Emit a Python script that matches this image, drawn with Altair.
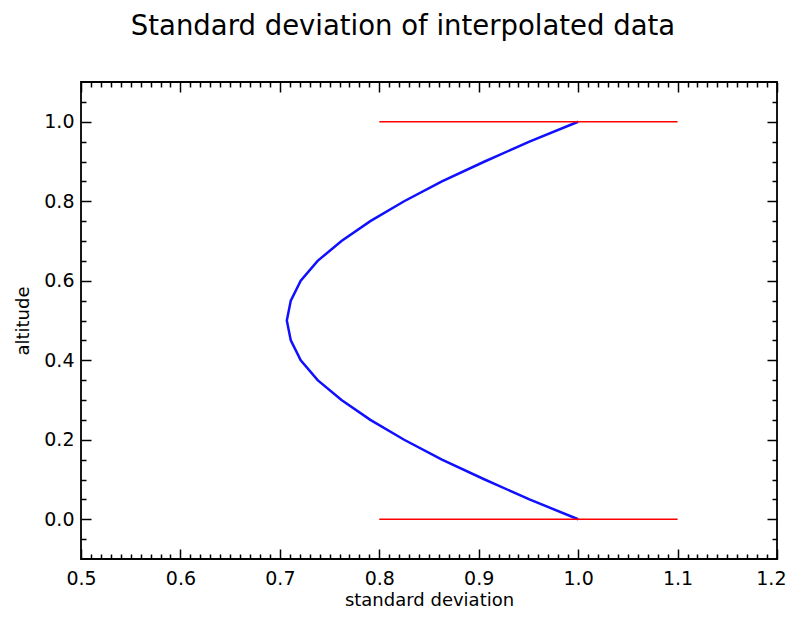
import altair as alt
import pandas as pd

# Curve values
altitude = [0.0, 0.05, 0.1, 0.15, 0.2, 0.25, 0.3, 0.35, 0.4, 0.45, 0.5,
            0.55, 0.6, 0.65, 0.7, 0.75, 0.8, 0.85, 0.9, 0.95, 1.0]
std_dev = [1.0, 0.951, 0.906, 0.863, 0.825, 0.791, 0.762, 0.738, 0.721, 0.711, 0.707,
           0.711, 0.721, 0.738, 0.762, 0.791, 0.825, 0.863, 0.906, 0.951, 1.0]

# Red reference lines
ref_alt = [0.0, 1.0]
ref_x0 = [0.8, 0.8]
ref_x1 = [1.1, 1.1]

x_major = [0.5, 0.6, 0.7, 0.8, 0.9, 1.0, 1.1]
x_last = [1.2]
x_minor = [0.51, 0.52, 0.53, 0.54, 0.55, 0.56, 0.57, 0.58, 0.59,
           0.61, 0.62, 0.63, 0.64, 0.65, 0.66, 0.67, 0.68, 0.69,
           0.71, 0.72, 0.73, 0.74, 0.75, 0.76, 0.77, 0.78, 0.79,
           0.81, 0.82, 0.83, 0.84, 0.85, 0.86, 0.87, 0.88, 0.89,
           0.91, 0.92, 0.93, 0.94, 0.95, 0.96, 0.97, 0.98, 0.99,
           1.01, 1.02, 1.03, 1.04, 1.05, 1.06, 1.07, 1.08, 1.09,
           1.11, 1.12, 1.13, 1.14, 1.15, 1.16, 1.17, 1.18, 1.19]
y_major = [0.0, 0.2, 0.4, 0.6, 0.8, 1.0]
y_minor = [-0.05, 0.05, 0.1, 0.15, 0.25, 0.3, 0.35, 0.45, 0.5, 0.55,
           0.65, 0.7, 0.75, 0.85, 0.9, 0.95, 1.05]

curve = pd.DataFrame({"std": std_dev, "alt": altitude, "i": list(range(len(altitude)))})
refs = pd.DataFrame({"alt": ref_alt, "x0": ref_x0, "x1": ref_x1})

xs = alt.Scale(domain=[0.5, 1.2], nice=False, zero=False)
ys = alt.Scale(domain=[-0.1, 1.1], nice=False, zero=False)

FONT = "DejaVu Sans"


def axis(orient, values, size, labels, title=None, title_pad=6, label_pad=10, **extra):
    kw = dict(orient=orient, values=values, tickSize=size, offset=-size, domain=False,
              grid=False, tickColor="black", tickWidth=1.5, labels=labels)
    if labels:
        kw.update(format=".1f", labelFont=FONT, labelFontSize=19, labelColor="black",
                  labelPadding=label_pad, labelFlush=False)
    if title:
        kw.update(title=title, titleFont=FONT, titleFontSize=18, titleFontWeight="normal",
                  titleColor="black", titlePadding=title_pad)
    else:
        kw.update(title=None)
    kw.update(extra)
    return alt.Axis(**kw)


line = alt.Chart(curve).mark_line(color="#1010ff", strokeWidth=2.5).encode(
    x=alt.X("std:Q", scale=xs,
            axis=axis("bottom", x_major, 10, True, "standard deviation", title_pad=3, label_pad=10)),
    y=alt.Y("alt:Q", scale=ys,
            axis=axis("left", y_major, 10, True, "altitude", title_pad=11, label_pad=7)),
    order="i:O",
)

red = alt.Chart(refs).mark_rule(color="#ff0000", strokeWidth=1.5).encode(
    x=alt.X("x0:Q", scale=xs, axis=axis("bottom", x_minor, 5, False)),
    x2="x1:Q",
    y=alt.Y("alt:Q", scale=ys, axis=axis("left", y_minor, 5, False)),
)

top_major = alt.Chart(refs).mark_point(opacity=0).encode(
    x=alt.X("x0:Q", scale=xs, axis=axis("top", x_major + x_last, 10, False)),
    y=alt.Y("alt:Q", scale=ys, axis=axis("right", y_major, 10, False)),
)
top_minor = alt.Chart(refs).mark_point(opacity=0).encode(
    x=alt.X("x0:Q", scale=xs, axis=axis("top", x_minor, 5, False)),
    y=alt.Y("alt:Q", scale=ys, axis=axis("right", y_minor, 5, False)),
)
last_label = alt.Chart(refs).mark_point(opacity=0).encode(
    x=alt.X("x0:Q", scale=xs,
            axis=axis("bottom", x_last, 10, True, label_pad=10,
                      labelFlush=True, labelFlushOffset=9)),
)

chart = alt.layer(line, red, top_major, top_minor, last_label).resolve_axis(
    x="independent", y="independent"
).properties(
    width=696,
    height=477,
    autosize=alt.AutoSizeParams(type="none"),
    padding={"left": 73, "top": 74, "right": 9, "bottom": 52},
    title=alt.TitleParams(
        "Standard deviation of interpolated data",
        font=FONT, fontSize=27.5, fontWeight="normal", color="black",
        anchor="middle", offset=41, dx=-26,
    ),
).configure(background="white").configure_view(stroke="black", strokeWidth=1.8)

chart.save("out.html", embed_options={"renderer": "svg", "actions": False})
